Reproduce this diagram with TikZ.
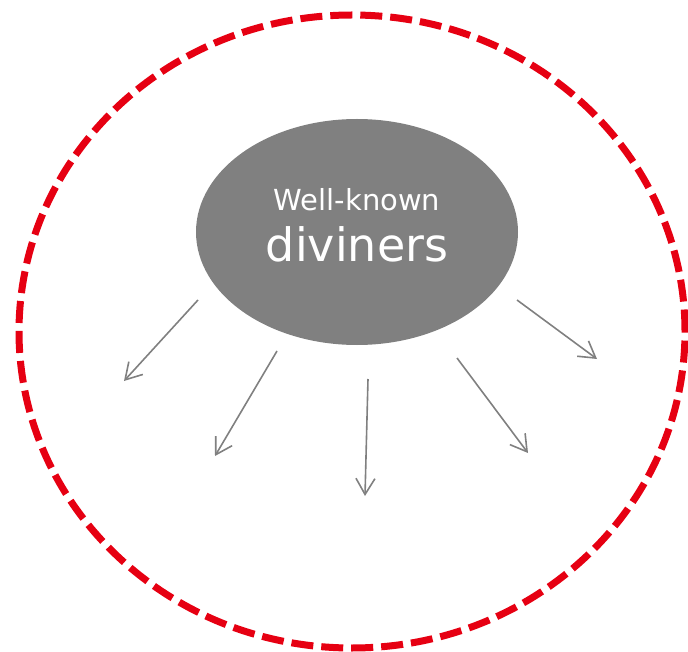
\documentclass[tikz,border=0pt]{standalone}
\usepackage{fontspec}
\setmainfont{DejaVu Sans}
\usetikzlibrary{arrows.meta,positioning,shapes.geometric}
\definecolor{myred}{RGB}{230,0,18}
\definecolor{mygray}{RGB}{128,128,128}
\tikzset{
  myblob/.style = {ellipse, fill=mygray, minimum width=322pt, minimum height=226pt, inner sep=0pt},
  mytext/.style = {text=white, inner sep=0pt, anchor=base},
  myring/.style = {draw=myred, line width=7pt, dash pattern=on 22pt off 8pt},
  myarrow/.style = {-{Straight Barb[length=16pt,width=19pt,line width=1.6pt]}, draw=mygray, line width=1.6pt},
}

\begin{document}
\begin{tikzpicture}[x=1pt,y=-1pt]
\useasboundingbox (0,0) rectangle (688,652);
\draw[myring] (352,331.5) ellipse [x radius=333pt, y radius=316.5pt];
\node[myblob] (seer) at (357,232) {};
\node[mytext, font=\fontsize{29}{34}\selectfont] (well) at (357,211) {Well-known};
\node[mytext, font=\fontsize{46}{52}\selectfont] (div) at (357,262) {diviners};
% arrow ends
\coordinate (a1) at (198,300);  \coordinate (b1) at (124,381);
\coordinate (a2) at (277,351);  \coordinate (b2) at (215,456);
\coordinate (a3) at (368,379);  \coordinate (b3) at (365,496);
\coordinate (a4) at (457,358);  \coordinate (b4) at (528,453);
\coordinate (a5) at (517,300);  \coordinate (b5) at (597,359);
\foreach \i in {1,...,5}
  \draw[myarrow] (a\i) -- (b\i);
\end{tikzpicture}
\end{document}
